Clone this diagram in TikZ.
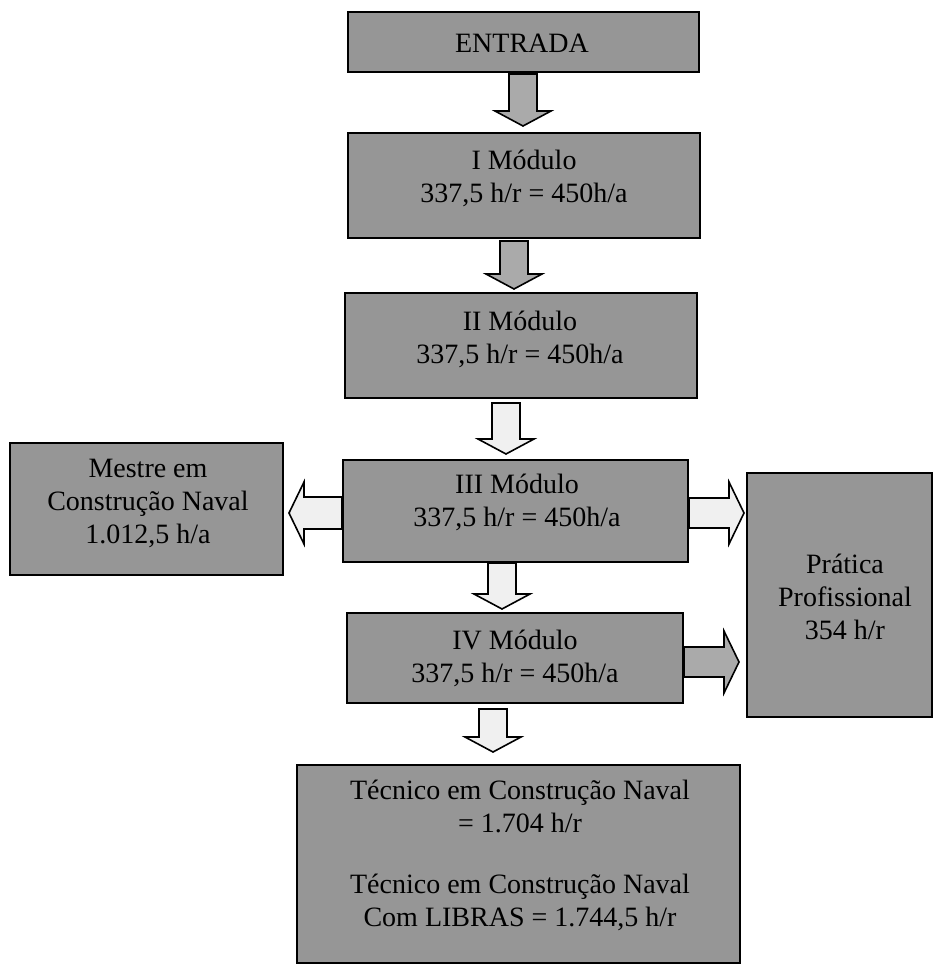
\documentclass[tikz,border=0pt]{standalone}
\usepackage{fontspec}
\setmainfont{Liberation Serif}
\usetikzlibrary{calc}
\definecolor{boxgray}{RGB}{150,150,150}
\definecolor{arrowlight}{RGB}{240,240,240}
\definecolor{arrowdark}{RGB}{170,170,170}
\begin{document}
\begin{tikzpicture}[x=0.5pt,y=-0.5pt,
  box/.style={draw=black, line width=1pt, fill=boxgray, inner sep=0pt},
  boxtext/.style={align=center, inner sep=0pt, font=\fontsize{14}{16.5}\selectfont},
  blk/.style={draw=black, line width=0.8pt, fill=arrowlight, line join=miter},
  blkdark/.style={blk, fill=arrowdark},
  downblock/.style={to path={let \p1=(\tikztostart), \p2=(\tikztotarget) in
     (\x1-7pt,\y1) -- (\x1+7pt,\y1) -- (\x1+7pt,\y2+7.5pt) -- (\x1+14pt,\y2+7.5pt)
     -- (\x1,\y2) -- (\x1-14pt,\y2+7.5pt) -- (\x1-7pt,\y2+7.5pt) -- cycle}},
  rightblock/.style={to path={let \p1=(\tikztostart), \p2=(\tikztotarget) in
     (\x1,\y1+7.5pt) -- (\x2-7.5pt,\y1+7.5pt) -- (\x2-7.5pt,\y1+15.5pt) -- (\x2,\y1)
     -- (\x2-7.5pt,\y1-15.5pt) -- (\x2-7.5pt,\y1-7.5pt) -- (\x1,\y1-7.5pt) -- cycle}},
  leftblock/.style={to path={let \p1=(\tikztostart), \p2=(\tikztotarget) in
     (\x1,\y1+8pt) -- (\x2+7.5pt,\y1+8pt) -- (\x2+7.5pt,\y1+15.5pt) -- (\x2,\y1)
     -- (\x2+7.5pt,\y1-15.5pt) -- (\x2+7.5pt,\y1-8pt) -- (\x1,\y1-8pt) -- cycle}}
]
\useasboundingbox (0,0) rectangle (933,964);

% boxes
\node[box, minimum width=175.5pt, minimum height=30pt] (entrada) at (523.5,42) {};
\node[box, minimum width=176pt, minimum height=52.5pt] (imod) at (524,185.5) {};
\node[box, minimum width=176pt, minimum height=52.5pt] (iimod) at (521,345.5) {};
\node[box, minimum width=172.5pt, minimum height=51pt] (iiimod) at (515.5,511) {};
\node[box, minimum width=136.5pt, minimum height=66pt] (mestre) at (146.5,509) {};
\node[box, minimum width=92.5pt, minimum height=122pt] (prat) at (839.5,595) {};
\node[box, minimum width=168pt, minimum height=45pt] (ivmod) at (515,658) {};
\node[box, minimum width=221.5pt, minimum height=99pt] (tec) at (518.5,864) {};

% texts
\node[boxtext] (tentrada) at (522,43) {ENTRADA};
\node[boxtext] (timod) at (524,178) {I Módulo\\337,5 h/r = 450h/a};
\node[boxtext] (tiimod) at (520,339) {II Módulo\\337,5 h/r = 450h/a};
\node[boxtext] (tiiimod) at (517,502) {III Módulo\\337,5 h/r = 450h/a};
\node[boxtext] (tmestre) at (148,503) {Mestre em\\Construção Naval\\1.012,5 h/a};
\node[boxtext] (tprat) at (845,597) {Prática\\Profissional\\354 h/r};
\node[boxtext] (tivmod) at (515,658) {IV Módulo\\337,5 h/r = 450h/a};
\node[boxtext] (ttec) at (520,855) {Técnico em Construção Naval\\= 1.704 h/r\\[14pt]Técnico em Construção Naval\\Com LIBRAS = 1.744,5 h/r};

% connector end points
\coordinate (a1s) at ($(entrada.south)+(-0.5,1)$);
\coordinate (a1e) at ($(imod.north)+(-1,-6)$);
\coordinate (a2s) at ($(imod.south)+(-10,2)$);
\coordinate (a2e) at ($(iimod.north)+(-7,-3)$);
\coordinate (a3s) at ($(iimod.south)+(-15,4)$);
\coordinate (a3e) at ($(iiimod.north)+(-9.5,-5)$);
\coordinate (a4s) at ($(iiimod.south)+(-13.5,0)$);
\coordinate (a4e) at ($(ivmod.north)+(-13,-3)$);
\coordinate (a5s) at ($(ivmod.south)+(-22,5)$);
\coordinate (a5e) at ($(tec.north)+(-25.5,-12)$);
\coordinate (a6s) at ($(iiimod.west)+(0,2)$);
\coordinate (a6e) at ($(mestre.east)+(5,4)$);
\coordinate (a7s) at ($(iiimod.east)+(0,2)$);
\coordinate (a7e) at ($(prat.west)+(-2,-82)$);
\coordinate (a8s) at ($(ivmod.east)+(0,4)$);
\coordinate (a8e) at ($(prat.west)+(-7,67)$);

% block arrows
\draw[blkdark] (a1s) to[downblock] (a1e);
\draw[blkdark] (a2s) to[downblock] (a2e);
\draw[blk] (a3s) to[downblock] (a3e);
\draw[blk] (a4s) to[downblock] (a4e);
\draw[blk] (a5s) to[downblock] (a5e);
\draw[blk] (a6s) to[leftblock] (a6e);
\draw[blk] (a7s) to[rightblock] (a7e);
\draw[blkdark] (a8s) to[rightblock] (a8e);
\end{tikzpicture}
\end{document}
